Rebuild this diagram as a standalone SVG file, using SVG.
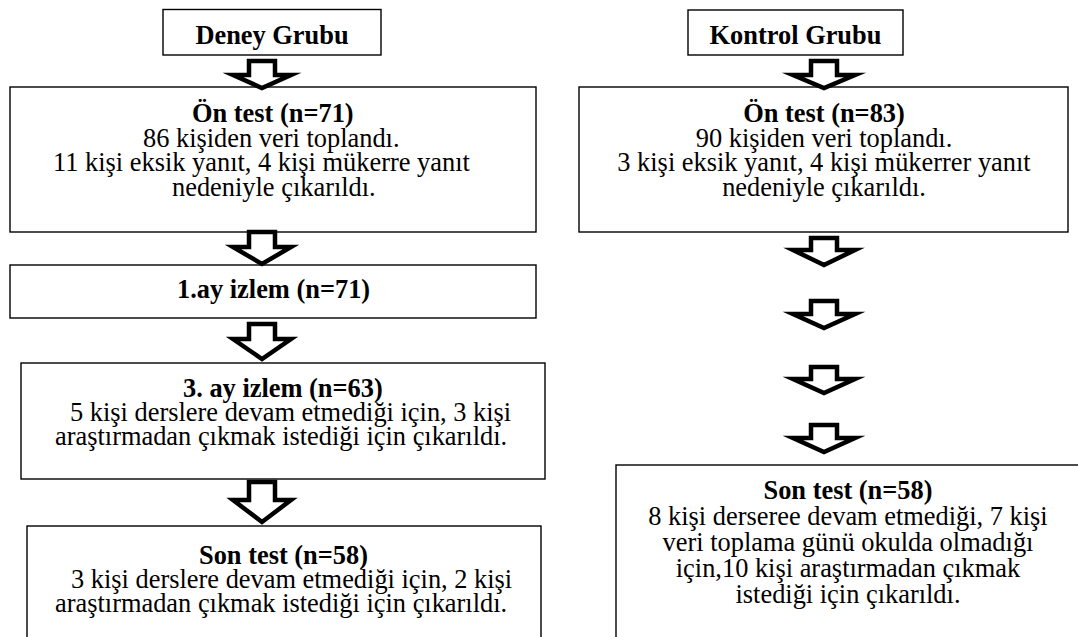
<svg xmlns="http://www.w3.org/2000/svg" width="1078" height="637" viewBox="0 0 1078 637">
<style>
.box{fill:#fff;stroke:#000;stroke-width:1.4}
.t{font-family:"Liberation Serif","Times New Roman",serif;font-size:26.4px;fill:#000}
.b{font-weight:bold}
.m{text-anchor:middle}
.arr{fill:#fff;stroke:#000;stroke-width:4.5;stroke-linejoin:miter;stroke-miterlimit:10}
</style>
<rect width="1078" height="637" fill="#fff"/>
<g id="deney">
<rect class="box" x="163" y="9.5" width="218" height="45.5"/>
<text class="t b m" x="272" y="44">Deney Grubu</text>
</g>
<g id="on-test-deney">
<rect class="box" x="10" y="87" width="526" height="145"/>
<text class="t b" x="192" y="122">Ön test (n=71)</text>
<text class="t" x="143" y="147">86 kişiden veri toplandı.</text>
<text class="t" x="53" y="171">11 kişi eksik yanıt, 4 kişi mükerre yanıt</text>
<text class="t" x="172" y="196">nedeniyle çıkarıldı.</text>
</g>
<g id="ay1-deney">
<rect class="box" x="10" y="265" width="526" height="53"/>
<text class="t b" x="177" y="298">1.ay izlem (n=71)</text>
</g>
<g id="ay3-deney">
<rect class="box" x="21" y="363" width="524" height="116"/>
<text class="t b" x="183" y="397">3. ay izlem (n=63)</text>
<text class="t" x="70" y="421">5 kişi derslere devam etmediği için, 3 kişi</text>
<text class="t" x="55" y="445">araştırmadan çıkmak istediği için çıkarıldı.</text>
</g>
<g id="son-test-deney">
<rect class="box" x="27" y="526" width="514" height="130"/>
<text class="t b" x="199" y="564">Son test (n=58)</text>
<text class="t" x="71" y="588">3 kişi derslere devam etmediği için, 2 kişi</text>
<text class="t" x="55" y="612">araştırmadan çıkmak istediği için çıkarıldı.</text>
</g>
<g id="kontrol">
<rect class="box" x="688" y="10" width="215" height="45"/>
<text class="t b m" x="795.5" y="44">Kontrol Grubu</text>
</g>
<g id="on-test-kontrol">
<rect class="box" x="579" y="87" width="489" height="145"/>
<text class="t b m" x="824" y="122">Ön test (n=83)</text>
<text class="t m" x="824" y="147">90 kişiden veri toplandı.</text>
<text class="t m" x="824" y="171">3 kişi eksik yanıt, 4 kişi mükerrer yanıt</text>
<text class="t m" x="824" y="196">nedeniyle çıkarıldı.</text>
</g>
<g id="son-test-kontrol">
<rect class="box" x="616" y="465" width="480" height="190"/>
<text class="t b m" x="848" y="499">Son test (n=58)</text>
<text class="t m" x="848" y="525">8 kişi derseree devam etmediği, 7 kişi</text>
<text class="t m" x="848" y="551">veri toplama günü okulda olmadığı</text>
<text class="t m" x="848" y="577">için,10 kişi araştırmadan çıkmak</text>
<text class="t m" x="848" y="603">istediği için çıkarıldı.</text>
</g>
<g id="connectors">
<path class="arr" d="M249,61 H275 V75 H291 L262,88 L233,75 H249 Z"/>
<path class="arr" d="M249,232 H275 V247 H291 L262,264 L233,247 H249 Z"/>
<path class="arr" d="M249,324 H275 V339 H291 L262,359 L233,339 H249 Z"/>
<path class="arr" d="M249,482 H275 V500 H291 L262,522 L233,500 H249 Z"/>
<path class="arr" d="M811,61 H837 V75 H855 L824,88 L793,75 H811 Z"/>
<path class="arr" d="M811,238 H837 V250 H855 L824,265 L793,250 H811 Z"/>
<path class="arr" d="M811,301 H837 V314 H855 L824,328 L793,314 H811 Z"/>
<path class="arr" d="M811,367 H837 V379 H855 L824,393 L793,379 H811 Z"/>
<path class="arr" d="M811,425 H837 V438 H855 L824,452 L793,438 H811 Z"/>
</g>
</svg>
